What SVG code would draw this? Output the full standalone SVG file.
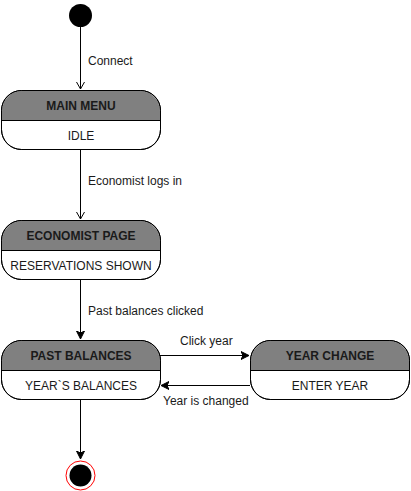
<svg xmlns="http://www.w3.org/2000/svg" width="411" height="491" viewBox="0 0 411 491">
<style>
.hdr{fill:#808080;stroke:none}
.box{fill:#fff;stroke:#000;stroke-width:1}
.div{stroke:#000;stroke-width:1}
.t{font-family:"Liberation Sans",Arial,sans-serif;font-size:12px;fill:#1a1a1a}
.b{font-weight:bold;text-anchor:middle}
.m{text-anchor:middle}
.c{fill:none;stroke:#000;stroke-width:1}
</style>
<defs>
<marker id="open" markerWidth="10" markerHeight="10" refX="8" refY="5" orient="auto" markerUnits="userSpaceOnUse"><path d="M1,1 L8,5 L1,9" fill="none" stroke="#000" stroke-width="1"/></marker>
<marker id="fill" markerWidth="10" markerHeight="10" refX="8" refY="5" orient="auto" markerUnits="userSpaceOnUse"><path d="M0,1 L8,5 L0,9 L2,5 Z" fill="#000" stroke="#000" stroke-width="1"/></marker>
</defs>
<g id="connectors">
<line class="c" x1="80.5" y1="27" x2="80.5" y2="89" marker-end="url(#open)"/>
<line class="c" x1="80.5" y1="150" x2="80.5" y2="219" marker-end="url(#open)"/>
<line class="c" x1="80.5" y1="280" x2="80.5" y2="339" marker-end="url(#fill)"/>
<line class="c" x1="160" y1="355.5" x2="249" y2="355.5" marker-end="url(#fill)"/>
<line class="c" x1="250" y1="385.5" x2="161" y2="385.5" marker-end="url(#fill)"/>
<line class="c" x1="80.5" y1="400" x2="80.5" y2="459" marker-end="url(#fill)"/>
<text class="t" x="88" y="65">Connect</text>
<text class="t" x="88" y="185">Economist logs in</text>
<text class="t" x="88" y="315">Past balances clicked</text>
<text class="t" x="180" y="345">Click year</text>
<text class="t" x="163" y="405">Year is changed</text>
</g>
<g id="start"><circle cx="80.5" cy="15.5" r="11.5" fill="#000"/></g>
<g id="main-menu">
<rect class="box" x="1.5" y="90.5" width="159" height="59" rx="20"/>
<path class="hdr" d="M2,120 V110.5 A20,20 0 0 1 21.5,91 H140.5 A20,20 0 0 1 160,110.5 V120 Z"/>
<rect class="box" x="1.5" y="90.5" width="159" height="59" rx="20" fill="none" style="fill:none"/>
<line class="div" x1="1.5" y1="120.5" x2="160.5" y2="120.5"/>
<text class="t b" x="81" y="110">MAIN MENU</text>
<text class="t m" x="81" y="140">IDLE</text>
</g>
<g id="economist-page">
<rect class="box" x="1.5" y="220.5" width="159" height="59" rx="20"/>
<path class="hdr" d="M2,250 V240.5 A20,20 0 0 1 21.5,221 H140.5 A20,20 0 0 1 160,240.5 V250 Z"/>
<rect class="box" x="1.5" y="220.5" width="159" height="59" rx="20" style="fill:none"/>
<line class="div" x1="1.5" y1="250.5" x2="160.5" y2="250.5"/>
<text class="t b" x="81" y="240">ECONOMIST PAGE</text>
<text class="t m" x="81" y="270">RESERVATIONS SHOWN</text>
</g>
<g id="past-balances">
<rect class="box" x="1.5" y="340.5" width="159" height="59" rx="20"/>
<path class="hdr" d="M2,370 V360.5 A20,20 0 0 1 21.5,341 H140.5 A20,20 0 0 1 160,360.5 V370 Z"/>
<rect class="box" x="1.5" y="340.5" width="159" height="59" rx="20" style="fill:none"/>
<line class="div" x1="1.5" y1="370.5" x2="160.5" y2="370.5"/>
<text class="t b" x="81" y="360">PAST BALANCES</text>
<text class="t m" x="81" y="390">YEAR`S BALANCES</text>
</g>
<g id="year-change">
<rect class="box" x="250.5" y="340.5" width="159" height="59" rx="20"/>
<path class="hdr" d="M251,370 V360.5 A20,20 0 0 1 270.5,341 H389.5 A20,20 0 0 1 409,360.5 V370 Z"/>
<rect class="box" x="250.5" y="340.5" width="159" height="59" rx="20" style="fill:none"/>
<line class="div" x1="250.5" y1="370.5" x2="409.5" y2="370.5"/>
<text class="t b" x="330" y="360">YEAR CHANGE</text>
<text class="t m" x="330" y="390">ENTER YEAR</text>
</g>
<g id="end">
<circle cx="80.5" cy="475.5" r="14.5" fill="#fff" stroke="#ff0000" stroke-width="1"/>
<circle cx="80.5" cy="475.5" r="11" fill="#000"/>
</g>
</svg>
